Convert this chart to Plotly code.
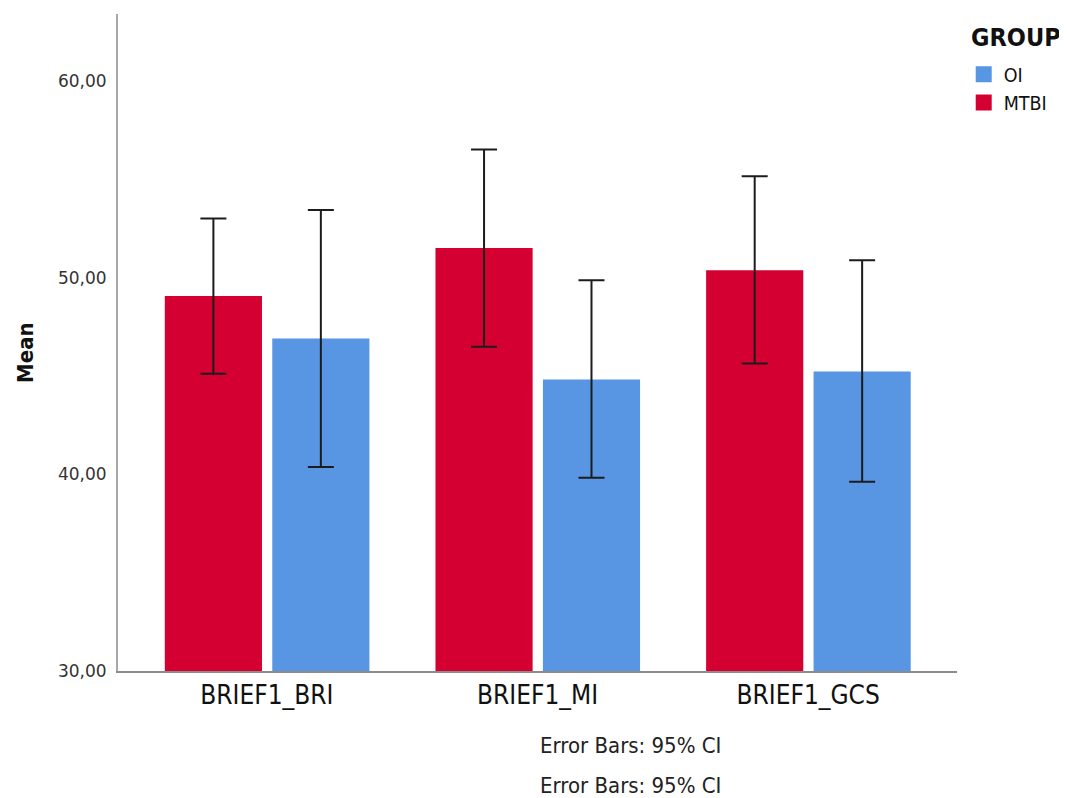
import plotly.graph_objects as go

# ---- data ----
categories = ["BRIEF1_BRI", "BRIEF1_MI", "BRIEF1_GCS"]
groups = ["MTBI", "OI"]

mtbi_mean = [49.06, 51.50, 50.37]
mtbi_upper = [53.01, 56.51, 55.15]
mtbi_lower = [45.11, 46.48, 45.63]

oi_mean = [46.90, 44.82, 45.22]
oi_upper = [53.44, 49.86, 50.88]
oi_lower = [40.37, 39.83, 39.62]

y_tick_vals = [30, 40, 50, 60]
y_tick_text = ["30,00", "40,00", "50,00", "60,00"]

footnotes = ["Error Bars: 95% CI", "Error Bars: 95% CI"]
legend_title = "GROUP"

RED = "#D50032"
BLUE = "#5896E3"
ERR = "#1c1c1c"
COND = "DejaVu Sans Condensed"

x_idx = list(range(len(categories)))


def err_parts(mean, up, lo):
    return ([u - m for u, m in zip(up, mean)], [m - l for m, l in zip(mean, lo)])


mtbi_plus, mtbi_minus = err_parts(mtbi_mean, mtbi_upper, mtbi_lower)
oi_plus, oi_minus = err_parts(oi_mean, oi_upper, oi_lower)

fig = go.Figure()

bar_w = 0.359
fig.add_trace(go.Bar(
    x=x_idx, y=mtbi_mean, name="MTBI", width=bar_w, offset=-0.377,
    marker=dict(color=RED, line=dict(width=0)),
    showlegend=False,
    error_y=dict(type="data", array=mtbi_plus, arrayminus=mtbi_minus,
                 color=ERR, thickness=2, width=13),
))
fig.add_trace(go.Bar(
    x=x_idx, y=oi_mean, name="OI", width=bar_w, offset=0.02,
    marker=dict(color=BLUE, line=dict(width=0)),
    showlegend=False,
    error_y=dict(type="data", array=oi_plus, arrayminus=oi_minus,
                 color=ERR, thickness=2, width=13),
))

# legend entries (OI first, then MTBI)
for nm, col in [("OI", BLUE), ("MTBI", RED)]:
    fig.add_trace(go.Scatter(
        x=[None], y=[None], mode="markers", name=nm,
        marker=dict(symbol="square", size=18, color=col),
    ))

fig.update_layout(
    width=1059, height=790,
    margin=dict(l=110, r=110, t=6, b=127),
    paper_bgcolor="white", plot_bgcolor="white",
    barmode="overlay",
    showlegend=True,
    legend=dict(
        font=dict(family=COND, size=19.5, color="#111"),
        x=1.008, xanchor="left", y=0.9376, yanchor="top",
        itemsizing="trace", tracegroupgap=0, bgcolor="rgba(0,0,0,0)",
        itemwidth=30,
    ),
    xaxis=dict(
        range=[-0.55, 2.55],
        tickvals=x_idx, ticktext=categories,
        tickfont=dict(family=COND, size=26, color="#111"),
        showline=True, linecolor="#8c8c8c", linewidth=2,
        showgrid=False, zeroline=False, ticks="",
    ),
    yaxis=dict(
        range=[30, 63.4],
        tickvals=y_tick_vals, ticktext=y_tick_text,
        tickfont=dict(family="DejaVu Sans", size=17, color="#333"),
        showline=True, linecolor="#a8a8a8", linewidth=2,
        showgrid=False, zeroline=False, ticks="",
        ticklabelstandoff=6,
    ),
)

fig.add_annotation(
    text="<b>" + legend_title + "</b>", xref="paper", yref="paper",
    x=1.0143, y=0.9635, xanchor="left", yanchor="middle", showarrow=False,
    font=dict(family=COND, size=25, color="#111"),
)
fig.add_annotation(
    text="<b>Mean</b>", textangle=-90, xref="paper", yref="paper",
    x=-0.111, y=0.4855, xanchor="center", yanchor="middle", showarrow=False,
    font=dict(family=COND, size=22, color="#111"),
)
for txt, yy in zip(footnotes, [-0.114, -0.175]):
    fig.add_annotation(
        text=txt, xref="paper", yref="paper", x=0.5, y=yy,
        xanchor="left", yanchor="middle", showarrow=False,
        font=dict(family=COND, size=22, color="#222"),
    )

fig.write_html("out.html")
